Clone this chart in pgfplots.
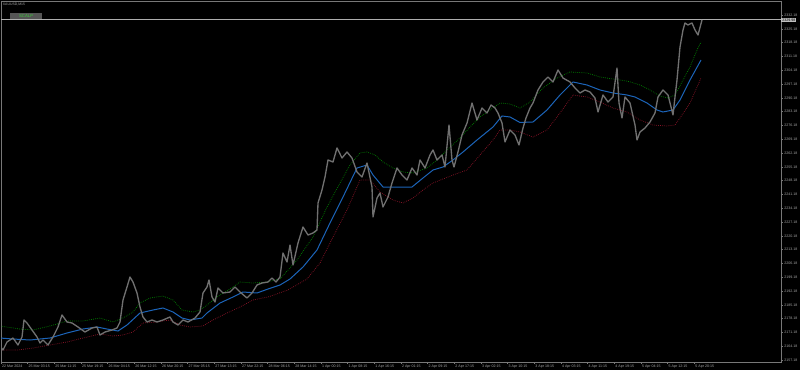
\documentclass[border=0pt]{standalone}
\usepackage{fontspec}
\setmainfont{Liberation Sans}
\usepackage{pgfplots}
\pgfplotsset{compat=1.18}
\usepackage{pgfplotstable}
\definecolor{pricegray}{RGB}{112,112,112}
\definecolor{mablue}{RGB}{28,100,185}
\definecolor{bandgreen}{RGB}{0,130,0}
\definecolor{bandred}{RGB}{140,20,40}
\definecolor{axisgray}{RGB}{120,120,120}
\definecolor{labelgray}{RGB}{165,165,165}
\definecolor{btngray}{RGB}{85,85,85}
\definecolor{btngreen}{RGB}{60,200,60}

\pgfplotstableread{
x p
0 2164.28
3 2162.25
7 2166.31
13 2168.34
18 2164.79
22 2168.85
24 2177.47
27 2175.95
32 2172.40
37 2168.85
40 2165.80
43 2167.32
48 2164.79
53 2168.85
58 2173.92
62 2180.01
67 2176.46
72 2175.95
78 2173.92
85 2171.38
92 2173.41
97 2173.92
100 2169.86
105 2171.38
112 2172.40
117 2173.41
120 2176.46
123 2187.61
127 2194.21
130 2199.28
133 2196.75
137 2191.17
140 2184.06
143 2178.99
147 2176.46
152 2177.47
157 2176.46
163 2177.47
170 2178.99
173 2176.46
178 2174.93
183 2177.47
188 2176.46
195 2178.48
200 2181.53
203 2191.17
207 2194.21
209 2197.76
212 2189.14
215 2186.60
218 2193.70
223 2191.17
230 2191.67
235 2194.21
240 2191.67
247 2188.63
252 2191.17
257 2195.22
262 2196.24
268 2196.75
272 2198.77
276 2196.75
280 2199.28
283 2211.46
287 2206.89
290 2215.51
293 2205.37
298 2216.53
303 2224.64
308 2220.59
313 2221.60
317 2223.12
318 2236.82
322 2243.41
325 2250.01
328 2258.63
333 2257.62
337 2264.72
342 2259.64
347 2262.69
352 2259.64
357 2252.54
362 2250.01
367 2257.11
372 2244.93
373 2229.72
377 2239.35
380 2241.89
383 2234.79
388 2239.86
392 2246.96
397 2254.57
402 2251.02
407 2248.48
412 2254.57
417 2251.02
420 2258.63
425 2254.57
430 2261.17
433 2263.70
437 2258.63
442 2261.17
445 2255.08
449 2276.38
452 2258.63
454 2255.08
458 2262.69
462 2271.31
467 2277.40
472 2287.54
477 2278.92
482 2285.01
487 2282.47
491 2286.53
495 2285.01
498 2282.47
502 2277.40
505 2267.76
510 2273.85
515 2271.31
519 2266.24
523 2274.86
526 2279.93
530 2285.01
533 2287.54
538 2294.14
543 2298.20
548 2300.73
553 2298.20
558 2304.28
563 2300.22
570 2298.20
575 2295.15
580 2292.62
585 2294.14
590 2293.12
595 2290.08
598 2282.98
603 2291.60
608 2288.05
613 2290.59
617 2305.30
619 2287.54
622 2279.93
625 2290.59
630 2287.54
635 2276.38
637 2268.77
640 2272.83
645 2274.86
650 2277.91
655 2282.47
658 2290.59
663 2294.14
668 2291.60
673 2281.46
675 2290.59
677 2299.21
680 2315.95
683 2324.57
685 2328.12
688 2327.11
692 2328.12
695 2324.57
698 2322.04
702 2329.64
}\pricedata

\pgfplotstableread{
x u
0 2174.43
20 2172.90
33 2172.40
50 2174.43
67 2176.96
83 2176.96
100 2178.48
113 2176.46
123 2178.48
133 2181.53
140 2186.09
150 2188.63
163 2189.64
173 2187.61
182 2182.54
193 2181.53
200 2182.54
207 2185.08
217 2189.14
233 2194.21
240 2196.75
253 2196.24
267 2196.75
280 2198.27
297 2207.90
313 2219.57
327 2234.79
340 2246.96
350 2256.09
360 2262.18
367 2262.69
375 2261.17
383 2257.62
393 2254.57
403 2252.54
413 2252.04
427 2254.57
437 2258.63
447 2263.70
460 2269.79
470 2275.37
480 2280.44
490 2283.99
500 2287.54
510 2287.04
520 2285.01
530 2288.05
543 2295.15
557 2300.22
570 2303.27
587 2302.76
600 2300.73
613 2299.72
627 2298.70
640 2296.67
650 2294.14
660 2291.09
668 2290.08
675 2291.60
682 2298.20
690 2305.80
697 2314.43
701 2318.49
}\upperdata

\pgfplotstableread{
x m
0 2168.34
13 2167.83
30 2167.32
50 2168.34
67 2170.88
83 2172.90
97 2173.92
107 2172.90
118 2171.89
127 2174.93
140 2181.02
153 2182.54
163 2183.56
173 2181.53
182 2178.48
190 2177.47
202 2178.48
207 2181.02
220 2186.09
233 2189.14
243 2191.67
257 2191.17
268 2193.19
280 2195.22
290 2198.27
303 2204.35
317 2212.98
330 2226.67
343 2239.86
357 2254.57
367 2256.09
373 2251.02
383 2244.93
392 2244.93
412 2244.93
423 2249.50
433 2253.56
443 2255.08
453 2258.63
463 2262.69
477 2268.77
493 2275.37
502 2280.95
510 2280.44
520 2277.65
533 2277.91
547 2283.99
560 2291.60
573 2298.20
587 2296.67
600 2294.14
613 2292.62
627 2291.60
635 2290.59
647 2287.54
657 2283.99
663 2282.98
673 2283.99
680 2289.06
690 2299.21
701 2309.35
}\middata

\pgfplotstableread{
x l
0 2162.25
17 2162.25
33 2163.27
50 2164.79
67 2166.31
83 2168.34
100 2170.37
113 2169.35
123 2169.86
133 2171.38
143 2175.95
157 2176.46
170 2177.47
180 2174.93
190 2173.92
203 2174.43
213 2177.47
227 2181.02
240 2184.06
253 2187.61
268 2189.14
288 2192.69
307 2198.27
320 2206.38
333 2219.57
347 2233.27
360 2248.48
370 2248.48
380 2242.40
393 2238.34
403 2236.82
413 2239.35
423 2243.41
433 2246.96
443 2248.99
453 2251.02
467 2253.56
480 2261.17
493 2268.77
500 2273.85
510 2273.85
520 2272.83
533 2270.30
547 2273.85
560 2282.47
573 2291.60
587 2290.59
600 2288.05
613 2285.01
627 2282.98
640 2278.92
653 2276.38
667 2275.88
675 2276.38
680 2279.93
690 2287.54
701 2300.22
}\lowerdata

\begin{document}
\begin{tikzpicture}
\fill[black] (0,0) rectangle (600pt,277.5pt);
\begin{axis}[
  at={(0.75pt,6pt)}, anchor=south west,
  scale only axis, width=585pt, height=270.75pt,
  xmin=1, xmax=781, ymin=2156.17, ymax=2339.28,
  axis line style={axisgray, line width=0.5pt},
  tick style={axisgray, line width=0.4pt},
  major tick length=1.5pt, tick align=outside,
  xtick pos=bottom, ytick pos=right, yticklabel pos=right,
  xtick={1,27.67,54.33,81,107.67,134.33,161,187.67,214.33,241,267.67,294.33,321,347.67,374.33,401,427.67,454.33,481,507.67,534.33,561,587.67,614.33,641,667.67,694.33},
  xticklabels={22 Mar 2024,25 Mar 03:15,25 Mar 11:15,25 Mar 19:15,26 Mar 04:15,26 Mar 12:15,26 Mar 20:15,27 Mar 05:15,27 Mar 13:15,27 Mar 22:15,28 Mar 06:15,28 Mar 14:15,1 Apr 00:15,1 Apr 08:15,1 Apr 16:15,2 Apr 01:15,2 Apr 09:15,2 Apr 17:15,3 Apr 02:15,3 Apr 10:15,3 Apr 18:15,4 Apr 03:15,4 Apr 11:15,4 Apr 19:15,5 Apr 04:15,5 Apr 12:15,5 Apr 20:15},
  ytick={2157.18,2164.18,2171.18,2178.18,2185.18,2192.18,2199.18,2206.18,2213.18,2220.18,2227.18,2234.18,2241.18,2248.18,2255.18,2262.18,2269.18,2276.18,2283.18,2290.18,2297.18,2304.18,2311.18,2318.18,2325.18,2332.18},
  yticklabels={2157.18,2164.18,2171.18,2178.18,2185.18,2192.18,2199.18,2206.18,2213.18,2220.18,2227.18,2234.18,2241.18,2248.18,2255.18,2262.18,2269.18,2276.18,2283.18,2290.18,2297.18,2304.18,2311.18,2318.18,2325.18,2332.18},
  ticklabel style={font=\fontsize{2.7}{3}\selectfont, text=labelgray},
  xticklabel style={anchor=north west, inner sep=0pt, xshift=0.6pt, yshift=-0.6pt},
  yticklabel style={anchor=west, inner sep=0pt, xshift=0.8pt},
  grid=none,
]
\addplot[labelgray!90, line width=0.5pt] coordinates {(1,2330.00) (781,2330.00)};
\addplot[bandgreen, line width=0.55pt, dash pattern=on 0.55pt off 0.9pt] table[x=x,y=u] {\upperdata};
\addplot[bandred, line width=0.55pt, dash pattern=on 0.55pt off 0.9pt] table[x=x,y=l] {\lowerdata};
\addplot[mablue, line width=0.75pt] table[x=x,y=m] {\middata};
\addplot[pricegray, line width=1pt, line join=round] table[x=x,y=p] {\pricedata};
\end{axis}
\node[anchor=west, inner sep=0pt, font=\fontsize{2.6}{3}\selectfont, text=labelgray] at (2pt,273.8pt) {XAUUSD,M15};
\fill[btngray] (7.5pt,263.3pt) rectangle (31.7pt,268pt);
\node[inner sep=0pt, font=\fontsize{3.2}{3.5}\selectfont, text=btngreen] at (19.6pt,265.65pt) {SCALP};
\node[anchor=west, fill={rgb,255:red,190;green,190;blue,190}, inner xsep=0.6pt, inner ysep=0.5pt, font=\fontsize{2.7}{3}\selectfont, text=black] at (585.9pt,262.5pt) {2329.98};
\pgfresetboundingbox
\useasboundingbox (0,0) rectangle (600pt,277.5pt);
\end{tikzpicture}
\end{document}
